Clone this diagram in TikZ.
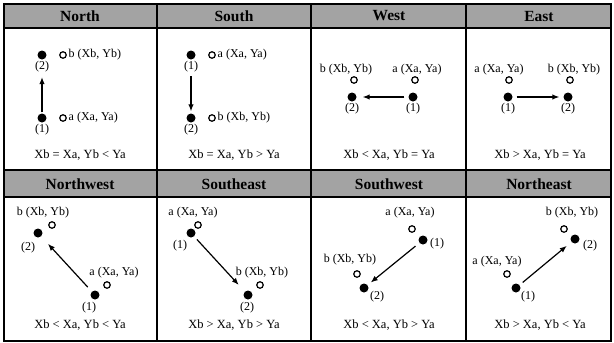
\documentclass[tikz,border=0pt]{standalone}
\usepackage{fontspec}
\setmainfont{Liberation Serif}
\usetikzlibrary{arrows.meta}
\tikzset{
  dot/.style={circle,fill=black,inner sep=0pt,minimum size=9pt},
  ring/.style={circle,draw=black,line width=1.2pt,fill=white,inner sep=0pt,minimum size=6.5pt},
  lbl/.style={inner sep=0.5pt,font=\fontsize{12}{13}\selectfont},
  cond/.style={inner sep=1pt,font=\fontsize{12.5}{14}\selectfont},
  head/.style={inner sep=1pt,font=\bfseries\fontsize{15.5}{17}\selectfont},
  band/.style={fill=black!36},
  rule/.style={line width=1.4pt},
  frame/.style={line width=2pt},
  arr/.style={-{Latex[length=7pt,width=5.5pt]},line width=1.2pt},
}
\begin{document}
\begin{tikzpicture}[x=1pt,y=-1pt]
\useasboundingbox (0,0) rectangle (614,343);

% grey title bands
\fill[band] (4,4) rectangle (611,28);
\fill[band] (4,170) rectangle (611,197);

% table rules
\draw[rule] (4,28) -- (611,28);
\draw[rule] (4,170) -- (611,170);
\draw[rule] (4,197) -- (611,197);
\draw[rule] (157,4) -- (157,341);
\draw[rule] (311,4) -- (311,341);
\draw[rule] (466,4) -- (466,341);
\draw[frame] (4,4) rectangle (611,341);

% titles
\node[head] (hN)  at (80,16)  {North};
\node[head] (hS)  at (234,16) {South};
\node[head] (hW)  at (389,16) {West};
\node[head] (hE)  at (539,16) {East};
\node[head] (hNW) at (80,184)  {Northwest};
\node[head] (hSE) at (234,184) {Southeast};
\node[head] (hSW) at (389,184) {Southwest};
\node[head] (hNE) at (539,184) {Northeast};

% North
\node[dot] (n2) at (42,55) {};
\node[lbl] (n2l) at (42,67) {(2)};
\node[ring] (nb) at (63,55) {};
\node[lbl,anchor=west] (nbl) at (68,55) {b (Xb, Yb)};
\node[dot] (n1) at (42,118) {};
\node[lbl] (n1l) at (42,130) {(1)};
\node[ring] (na) at (63,118) {};
\node[lbl,anchor=west] (nal) at (68,118) {a (Xa, Ya)};
\node[cond] (nc) at (80,155) {Xb = Xa, Yb < Ya};
\draw[arr,shorten <=1pt,shorten >=4pt] (n1) -- (n2l);

% South
\node[dot] (s1) at (191,55) {};
\node[lbl] (s1l) at (191,67) {(1)};
\node[ring] (sa) at (212,55) {};
\node[lbl,anchor=west] (sal) at (217,55) {a (Xa, Ya)};
\node[dot] (s2) at (191,118) {};
\node[lbl] (s2l) at (191,130) {(2)};
\node[ring] (sb) at (212,118) {};
\node[lbl,anchor=west] (sbl) at (217,118) {b (Xb, Yb)};
\node[cond] (sc) at (234,155) {Xb = Xa, Yb > Ya};
\draw[arr,shorten <=3pt,shorten >=2pt] (s1l) -- (s2);

% West
\node[dot] (w2) at (352,97) {};
\node[lbl] (w2l) at (352,109) {(2)};
\node[ring] (wb) at (354,80) {};
\node[lbl] (wbl) at (346,70) {b (Xb, Yb)};
\node[dot] (w1) at (413,97) {};
\node[lbl] (w1l) at (413,109) {(1)};
\node[ring] (wa) at (415,80) {};
\node[lbl] (wal) at (417,70) {a (Xa, Ya)};
\node[cond] (wc) at (389,155) {Xb < Xa, Yb = Ya};
\draw[arr,shorten <=4pt,shorten >=6pt] (w1) -- (w2);

% East
\node[dot] (e1) at (508,97) {};
\node[lbl] (e1l) at (508,109) {(1)};
\node[ring] (ea) at (509,80) {};
\node[lbl] (eal) at (499,70) {a (Xa, Ya)};
\node[dot] (e2) at (568,97) {};
\node[lbl] (e2l) at (568,109) {(2)};
\node[ring] (eb) at (570,80) {};
\node[lbl] (ebl) at (574,70) {b (Xb, Yb)};
\node[cond] (ec) at (540,155) {Xb > Xa, Yb = Ya};
\draw[arr,shorten <=4pt,shorten >=4pt] (e1) -- (e2);

% Northwest
\node[lbl] (nwbl) at (43,213) {b (Xb, Yb)};
\node[ring] (nwb) at (52,225) {};
\node[dot] (nw2) at (38,233) {};
\node[lbl] (nw2l) at (28,248) {(2)};
\node[lbl] (nwal) at (114,273) {a (Xa, Ya)};
\node[ring] (nwa) at (107,285) {};
\node[dot] (nw1) at (95,295) {};
\node[lbl] (nw1l) at (89,308) {(1)};
\node[cond] (nwc) at (80,325) {Xb < Xa, Yb < Ya};
\draw[arr,shorten <=6pt,shorten >=10pt] (nw1) -- (nw2);

% Southeast
\node[lbl] (seal) at (193,213) {a (Xa, Ya)};
\node[ring] (sea) at (198,225) {};
\node[dot] (se1) at (191,233) {};
\node[lbl] (se1l) at (180,246) {(1)};
\node[lbl] (sebl) at (262,273) {b (Xb, Yb)};
\node[ring] (seb) at (260,285) {};
\node[dot] (se2) at (248,295) {};
\node[lbl] (se2l) at (247,308) {(2)};
\node[cond] (sec) at (234,325) {Xb > Xa, Yb > Ya};
\draw[arr,shorten <=4pt,shorten >=9pt] (se1) -- (se2);

% Southwest
\node[lbl] (swal) at (410,213) {a (Xa, Ya)};
\node[ring] (swa) at (412,229) {};
\node[dot] (sw1) at (423,240) {};
\node[lbl] (sw1l) at (437,244) {(1)};
\node[lbl] (swbl) at (350,260) {b (Xb, Yb)};
\node[ring] (swb) at (357,274) {};
\node[dot] (sw2) at (364,288) {};
\node[lbl] (sw2l) at (377,297) {(2)};
\node[cond] (swc) at (389,325) {Xb < Xa, Yb > Ya};
\draw[arr,shorten <=5pt,shorten >=4pt] (sw1) -- (sw2);

% Northeast
\node[lbl] (nebl) at (572,213) {b (Xb, Yb)};
\node[ring] (neb) at (564,229) {};
\node[dot] (ne2) at (575,239) {};
\node[lbl] (ne2l) at (590,246) {(2)};
\node[lbl] (neal) at (497,262) {a (Xa, Ya)};
\node[ring] (nea) at (507,274) {};
\node[dot] (ne1) at (516,288) {};
\node[lbl] (ne1l) at (528,297) {(1)};
\node[cond] (nec) at (540,325) {Xb > Xa, Yb < Ya};
\draw[arr,shorten <=4pt,shorten >=6pt] (ne1) -- (ne2);
\end{tikzpicture}
\end{document}
